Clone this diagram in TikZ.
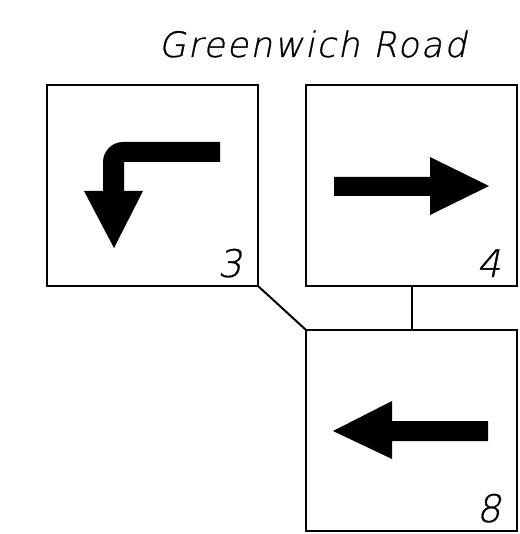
\documentclass[tikz,border=0pt]{standalone}
\usepackage{fontspec}
\newfontfamily\cadfont[FakeSlant=0.2,FakeBold=0.8]{DejaVu Sans ExtraLight}
\newfontfamily\titlefont[FakeSlant=0.2,FakeBold=0.8,LetterSpace=5.5]{DejaVu Sans ExtraLight}
\usetikzlibrary{calc}
\tikzset{
  signbox/.style={draw, line width=2.2pt, minimum width=211pt, minimum height=201pt, inner sep=0pt, outer sep=0pt},
  link/.style={line width=2pt},
  arrowfill/.style={fill=black, draw=none},
  numlabel/.style={anchor=base east, inner sep=0pt, font=\cadfont\fontsize{38}{38}\selectfont},
}
\begin{document}
\begin{tikzpicture}[x=1pt,y=-1pt]
\useasboundingbox (0,0) rectangle (519,534);
\node[anchor=base, inner sep=0pt, font=\titlefont\fontsize{35}{35}\selectfont] (title) at (312.5,57) {Greenwich Road};
\node[signbox] (b1) at (152.5,185.5) {};
\node[signbox] (b2) at (411.5,185.5) {};
\node[signbox] (b3) at (411.5,430.5) {};
\draw[link] (b1.south east) -- (b3.north west);
\draw[link] (b2.south) -- (b3.north);
% box 1: left-turn arrow
\fill[arrowfill] (220,142) -- (123,142) .. controls (112,142) and (103,151) .. (103,162) -- (103,191) -- (84,191) -- (114,248) -- (143,191) -- (124,191) -- (124,162) -- (220,162) -- cycle;
% box 2: right arrow
\fill[arrowfill] (334,177) -- (430,177) -- (430,157) -- (489,186) -- (430,215) -- (430,196) -- (334,196) -- cycle;
% box 3: left arrow
\fill[arrowfill] (488,421) -- (392,421) -- (392,401) -- (333,431) -- (392,459) -- (392,441) -- (488,441) -- cycle;
\node[numlabel] (n3) at ($(b1.south east)+(-16,-9)$) {3};
\node[numlabel] (n4) at ($(b2.south east)+(-16,-9)$) {4};
\node[numlabel] (n8) at ($(b3.south east)+(-16,-9)$) {8};
\end{tikzpicture}
\end{document}
